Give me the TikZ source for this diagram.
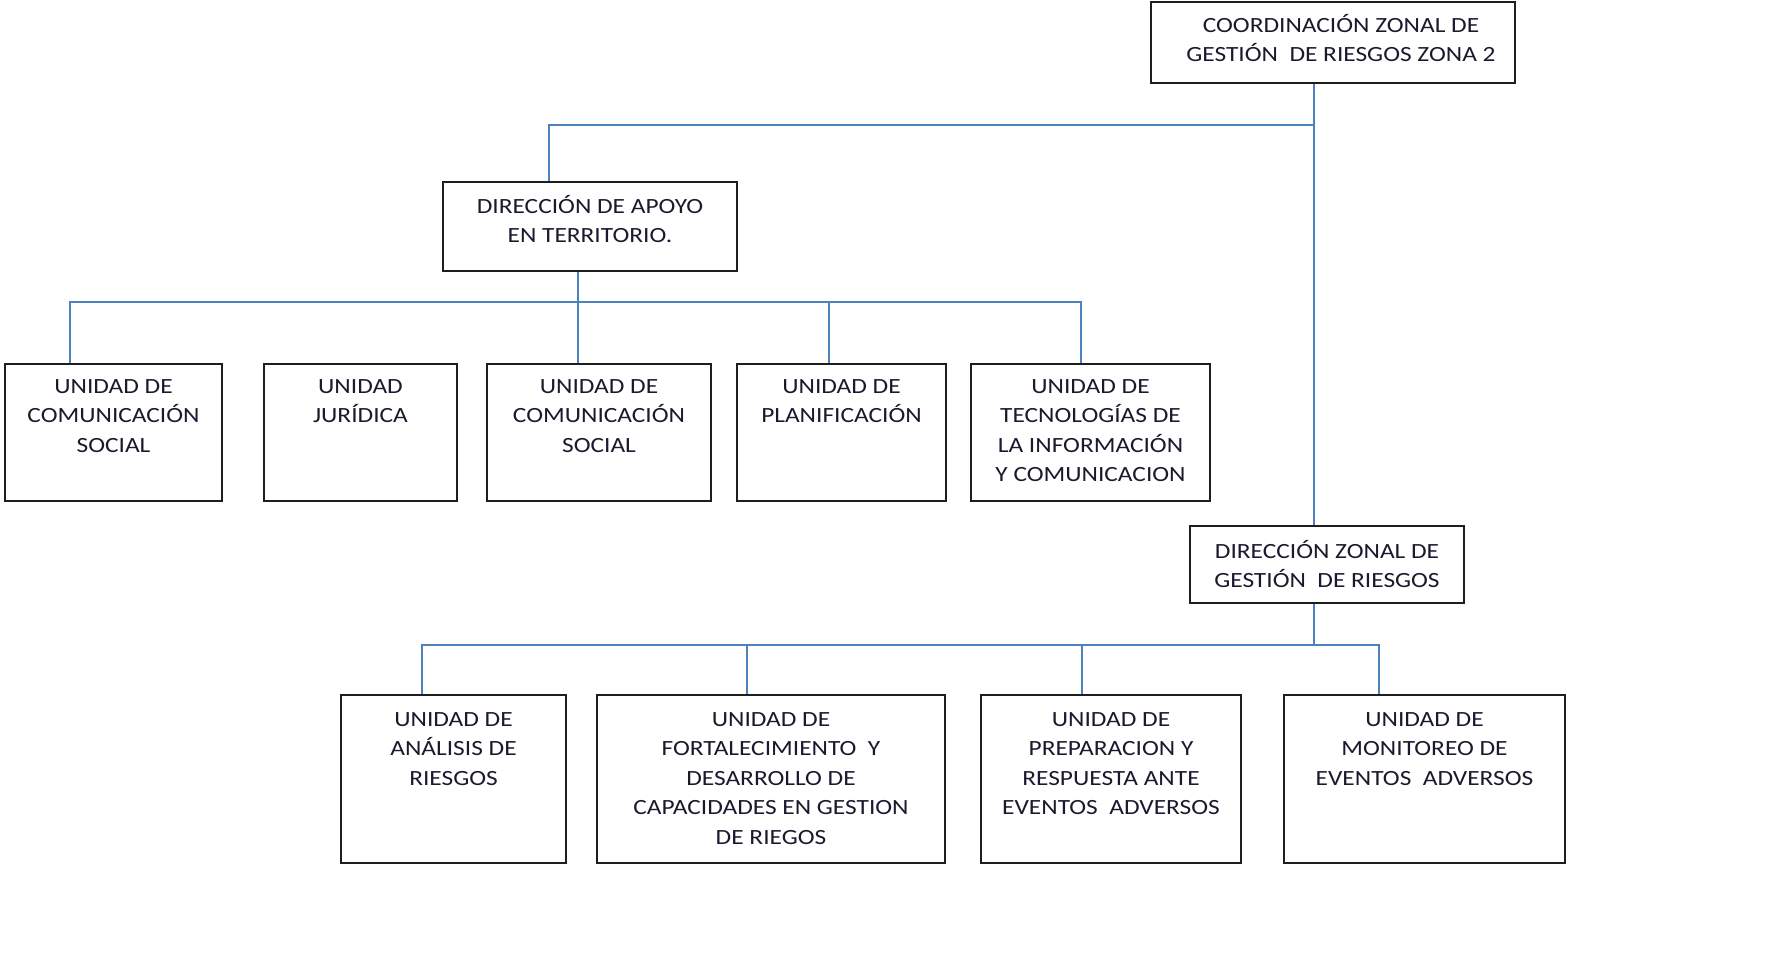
\documentclass[tikz,border=0pt]{standalone}
\usepackage{fontspec}
\newfontfamily\lblfont[FakeStretch=1.17]{Carlito}
\definecolor{connblue}{HTML}{4F81BD}
\definecolor{boxline}{HTML}{1E1E1E}
\definecolor{txt}{HTML}{1A1A2E}
\tikzset{
  orgbox/.style={draw=boxline, line width=2pt, fill=white, inner sep=0pt},
  orgtext/.style={anchor=north, inner sep=0pt, align=center, text=txt,
    font=\lblfont\fontsize{21.7}{29.5}\selectfont},
  conn/.style={draw=connblue, line width=2pt}
}
\begin{document}
\begin{tikzpicture}[x=1pt,y=-1pt]
\useasboundingbox (0,0) rectangle (1767,975);
% boxes
\node[orgbox, minimum width=364, minimum height=81] (top) at (1333,42.5) {};
\node[orgbox, minimum width=294, minimum height=89] (apoyo) at (590,226.5) {};
\node[orgbox, minimum width=217, minimum height=137] (b1) at (113.5,432.5) {};
\node[orgbox, minimum width=193, minimum height=137] (b2) at (360.5,432.5) {};
\node[orgbox, minimum width=224, minimum height=137] (b3) at (599,432.5) {};
\node[orgbox, minimum width=209, minimum height=137] (b4) at (841.5,432.5) {};
\node[orgbox, minimum width=239, minimum height=137] (b5) at (1090.5,432.5) {};
\node[orgbox, minimum width=274, minimum height=77] (zonal) at (1327,564.5) {};
\node[orgbox, minimum width=225, minimum height=168] (c1) at (453.5,779) {};
\node[orgbox, minimum width=348, minimum height=168] (c2) at (771,779) {};
\node[orgbox, minimum width=260, minimum height=168] (c3) at (1111,779) {};
\node[orgbox, minimum width=281, minimum height=168] (c4) at (1424.5,779) {};
% texts
\node[orgtext] (topt) at ([xshift=8,yshift=-13]top.north) {COORDINACIÓN ZONAL DE\\GESTIÓN\ \ DE RIESGOS ZONA 2};
\node[orgtext] (apoyot) at ([yshift=-14]apoyo.north) {DIRECCIÓN DE APOYO\\EN TERRITORIO.};
\node[orgtext] (b1t) at ([yshift=-16]b1.north) {UNIDAD DE\\COMUNICACIÓN\\SOCIAL};
\node[orgtext] (b2t) at ([yshift=-16]b2.north) {UNIDAD\\JURÍDICA};
\node[orgtext] (b3t) at ([yshift=-16]b3.north) {UNIDAD DE\\COMUNICACIÓN\\SOCIAL};
\node[orgtext] (b4t) at ([yshift=-16]b4.north) {UNIDAD DE\\PLANIFICACIÓN};
\node[orgtext] (b5t) at ([yshift=-16]b5.north) {UNIDAD DE\\TECNOLOGÍAS DE\\LA INFORMACIÓN\\Y COMUNICACION};
\node[orgtext] (zonalt) at ([yshift=-15]zonal.north) {DIRECCIÓN ZONAL DE\\GESTIÓN\ \ DE RIESGOS};
\node[orgtext] (c1t) at ([yshift=-18]c1.north) {UNIDAD DE\\ANÁLISIS DE\\RIESGOS};
\node[orgtext] (c2t) at ([yshift=-18]c2.north) {UNIDAD DE\\FORTALECIMIENTO\ \ Y\\DESARROLLO DE\\CAPACIDADES EN GESTION\\DE RIEGOS};
\node[orgtext] (c3t) at ([yshift=-18]c3.north) {UNIDAD DE\\PREPARACION Y\\RESPUESTA ANTE\\EVENTOS\ \ ADVERSOS};
\node[orgtext] (c4t) at ([yshift=-18]c4.north) {UNIDAD DE\\MONITOREO DE\\EVENTOS\ \ ADVERSOS};
% junctions
\coordinate (j1) at (1314,125);
\coordinate (j2) at (578,302);
\coordinate (j3) at (1314,645);
% connectors
\draw[conn] (top.south -| j1) -- (zonal.north -| j1);
\draw[conn] (j1) -| ([xshift=-41]apoyo.north);
\draw[conn] (apoyo.south -| j2) -- (j2);
\draw[conn] ([xshift=-43.5]b1.north) |- (j2);
\draw[conn] (b3.north -| j2) -- (j2);
\draw[conn] ([xshift=-12.5]b4.north) |- (j2);
\draw[conn] ([xshift=-9.5]b5.north) |- (j2);
\draw[conn] (zonal.south -| j3) -- (j3);
\draw[conn] ([xshift=-31.5]c1.north) |- (j3);
\draw[conn] ([xshift=-24]c2.north) |- (j3);
\draw[conn] ([xshift=-29]c3.north) |- (j3);
\draw[conn] ([xshift=-45.5]c4.north) |- (j3);
\end{tikzpicture}
\end{document}
